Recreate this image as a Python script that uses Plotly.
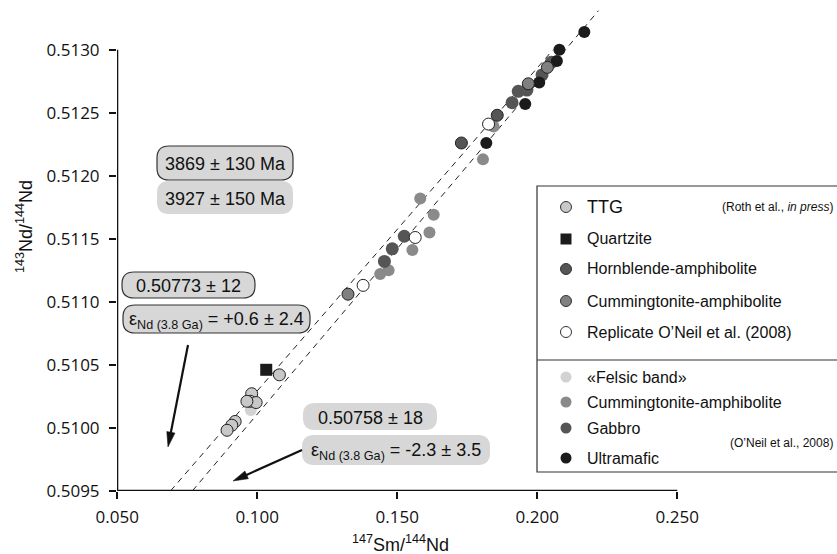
import math
import plotly.graph_objects as go

# ---------------- data ----------------
# Roth et al. (in press)
ttg_x = [0.1079, 0.0980, 0.0975, 0.0996, 0.0963, 0.0921, 0.0909, 0.0892]
ttg_y = [0.51042, 0.51027, 0.51021, 0.51020, 0.51021, 0.51005, 0.51002, 0.50998]
qtz_x = [0.1032]
qtz_y = [0.51046]
hbl_x = [0.1729, 0.1857]
hbl_y = [0.51226, 0.51248]
cumr_x = [0.1324, 0.1968, 0.2036]
cumr_y = [0.51106, 0.51273, 0.51286]
rep_x = [0.1378, 0.1564, 0.1826]
rep_y = [0.51113, 0.51151, 0.51241]
# O'Neil et al. (2008)
fel_x = [0.0977]
fel_y = [0.51014]
cumo_x = [0.1582, 0.1630, 0.1615, 0.1554, 0.1469, 0.1439, 0.1806, 0.1844]
cumo_y = [0.51182, 0.51169, 0.51155, 0.51141, 0.51125, 0.51122, 0.51213, 0.51239]
gab_x = [0.1525, 0.1482, 0.1454, 0.1910, 0.1932, 0.1963, 0.2017, 0.2050]
gab_y = [0.51152, 0.51142, 0.51132, 0.51258, 0.51267, 0.51268, 0.51280, 0.51290]
umf_x = [0.2168, 0.2079, 0.2070, 0.2007, 0.1957, 0.1818]
umf_y = [0.51314, 0.51300, 0.51291, 0.51274, 0.51257, 0.51226]

# isochrons (intercept, slope, upper end)
iso_b = [0.50773, 0.50748]
iso_m = [0.02563, 0.02628]
iso_ytop = [0.51300, 0.51331]

x_ticks = [0.050, 0.100, 0.150, 0.200, 0.250]
x_ticktext = ["0.050", "0.100", "0.150", "0.200", "0.250"]
y_ticks = [0.5095, 0.5100, 0.5105, 0.5110, 0.5115, 0.5120, 0.5125, 0.5130]
y_ticktext = ["0.5095", "0.5100", "0.5105", "0.5110", "0.5115", "0.5120", "0.5125", "0.5130"]

age_labels = ["3869 ± 130 Ma", "3927 ± 150 Ma"]
intercept_labels = ["0.50773 ± 12", "0.50758 ± 18"]
eps_labels = ["+0.6 ± 2.4", "-2.3 ± 3.5"]

roth_names = ["TTG", "Quartzite", "Hornblende-amphibolite", "Cummingtonite-amphibolite",
              "Replicate O’Neil et al. (2008)"]
oneil_names = ["«Felsic band»", "Cummingtonite-amphibolite", "Gabbro", "Ultramafic"]

# ---------------- layout geometry ----------------
W, H = 837, 554
L, R, T, B = 117, 837, 0, 491
XPX = 2800.0     # px per x unit
YPX = 126000.0   # px per y unit
x0r = 0.05
y0r = 0.5095
xr = [x0r - 0.0001, x0r - 0.0001 + (R - L) / XPX]
yr = [y0r - 0.000002, y0r - 0.000002 + (B - T) / YPX]


def px(xp):
    return (xp - L) / (R - L)


def py(yp):
    return (B - yp) / (B - T)


def pill(x0, y0, x1, y1, r):
    pts = [("M", [(x0 + r, y0)]), ("L", [(x1 - r, y0)]), ("Q", [(x1, y0), (x1, y0 + r)]),
           ("L", [(x1, y1 - r)]), ("Q", [(x1, y1), (x1 - r, y1)]), ("L", [(x0 + r, y1)]),
           ("Q", [(x0, y1), (x0, y1 - r)]), ("L", [(x0, y0 + r)]), ("Q", [(x0, y0), (x0 + r, y0)])]
    s = ""
    for cmd, ps in pts:
        s += cmd + " " + " ".join(f"{px(a):.5f},{py(b):.5f}" for a, b in ps) + " "
    return s + "Z"


fig = go.Figure()

# isochrons
for b, m, yt in zip(iso_b, iso_m, iso_ytop):
    fig.add_trace(go.Scatter(x=[(y0r - b) / m, (yt - b) / m], y=[y0r, yt], mode="lines",
                             line=dict(color="#222", width=1, dash="6px,5px"),
                             hoverinfo="skip", showlegend=False))

OUT = dict(color="#222", width=1)


def pts(x, y, color, line=None, symbol="circle", size=12):
    fig.add_trace(go.Scatter(x=x, y=y, mode="markers", showlegend=False, hoverinfo="skip",
                             marker=dict(color=color, size=size, symbol=symbol,
                                         line=line if line else dict(width=0))))


# O'Neil
pts(fel_x, fel_y, "#d2d2d2")
pts(cumo_x, cumo_y, "#8a8a8a")
pts(gab_x, gab_y, "#555555", size=13)
pts(umf_x, umf_y, "#1b1b1b")
# Roth
pts(ttg_x, ttg_y, "#c8c8c8", OUT)
pts(qtz_x, qtz_y, "#1b1b1b", symbol="square", size=12)
pts(hbl_x, hbl_y, "#555555", OUT)
pts(cumr_x, cumr_y, "#808080", OUT)
pts(rep_x, rep_y, "#ffffff", OUT)

shapes = []
# axis lines
shapes.append(dict(type="line", xref="x", yref="y", x0=x_ticks[0], x1=x_ticks[-1], y0=y0r, y1=y0r,
                   line=dict(color="#111", width=2)))
shapes.append(dict(type="line", xref="x", yref="y", x0=x0r, x1=x0r, y0=y_ticks[0], y1=y_ticks[-1],
                   line=dict(color="#111", width=2)))

annotations = []
FILL = "#d7d7d7"
BOX_FONT = dict(family="Liberation Sans, Arial", size=18, color="#111")

# pills: (x0,y0,x1,y1, outlined, text)
pills = [
    (157, 146, 293, 180, True, age_labels[0]),
    (157, 181, 293, 214, False, age_labels[1]),
    (122, 272, 255, 298, True, intercept_labels[0]),
    (123, 305, 310, 333, True, "ε<sub>Nd (3.8 Ga)</sub> = " + eps_labels[0]),
    (303, 403, 437, 430, False, intercept_labels[1]),
    (302, 435, 490, 465, False, "ε<sub>Nd (3.8 Ga)</sub> = " + eps_labels[1]),
]
for x0p, y0p, x1p, y1p, outl, txt in pills:
    shapes.append(dict(type="path", xref="paper", yref="paper", path=pill(x0p, y0p, x1p, y1p, 12),
                       fillcolor=FILL, line=dict(color="#333" if outl else FILL, width=1.2 if outl else 0),
                       layer="above"))
    annotations.append(dict(xref="paper", yref="paper", x=px((x0p + x1p) / 2), y=py((y0p + y1p) / 2 + 1),
                            text=txt, showarrow=False, font=BOX_FONT, xanchor="center", yanchor="middle"))

# arrows (tip, tail) drawn as line + triangular head
for (tx, ty), (sx, sy) in [((168, 447), (188, 345)), ((233, 481), (302, 450))]:
    dx, dy = tx - sx, ty - sy
    d = math.hypot(dx, dy)
    ux, uy = dx / d, dy / d
    nx, ny = -uy, ux
    hl, hw = 15, 4.2
    bx, by = tx - hl * ux, ty - hl * uy
    shapes.append(dict(type="line", xref="paper", yref="paper", x0=px(sx), y0=py(sy), x1=px(bx + 2 * ux),
                       y1=py(by + 2 * uy), line=dict(color="#111", width=2.2), layer="above"))
    tri = (f"M {px(tx):.5f},{py(ty):.5f} L {px(bx + hw * nx):.5f},{py(by + hw * ny):.5f} "
           f"L {px(bx - hw * nx):.5f},{py(by - hw * ny):.5f} Z")
    shapes.append(dict(type="path", xref="paper", yref="paper", path=tri, fillcolor="#111",
                       line=dict(color="#111", width=0.5), layer="above"))

# legend box
shapes.append(dict(type="rect", xref="paper", yref="paper", x0=px(537), x1=px(850), y0=py(186), y1=py(472),
                   fillcolor="white", line=dict(color="#333", width=1.2), layer="above"))
shapes.append(dict(type="line", xref="paper", yref="paper", x0=px(537), x1=px(850), y0=py(360), y1=py(360),
                   line=dict(color="#333", width=1.2), layer="above"))

LEG_FONT = dict(family="Liberation Sans, Arial", size=16, color="#111")
roth_rows = [207, 239, 269, 301, 332]
roth_style = [("circle", "#c8c8c8", True), ("square", "#1b1b1b", False), ("circle", "#555555", True),
              ("circle", "#808080", True), ("circle", "#ffffff", True)]
oneil_rows = [377, 402, 428, 458]
oneil_style = [("circle", "#d2d2d2", False), ("circle", "#8a8a8a", False), ("circle", "#555555", False),
               ("circle", "#1b1b1b", False)]
mx = 566
rad = 5.5
for rows, names, styles in [(roth_rows, roth_names, roth_style), (oneil_rows, oneil_names, oneil_style)]:
    for yy, nm, (sym, col, outl) in zip(rows, names, styles):
        shapes.append(dict(type="circle" if sym == "circle" else "rect", xref="paper", yref="paper",
                           x0=px(mx - rad), x1=px(mx + rad), y0=py(yy + rad), y1=py(yy - rad),
                           fillcolor=col, line=dict(color="#333" if outl else col, width=1 if outl else 0),
                           layer="above"))
        f = dict(LEG_FONT)
        if nm == "TTG":
            f["size"] = 18
        annotations.append(dict(xref="paper", yref="paper", x=px(585), y=py(yy), text=nm, showarrow=False,
                                xanchor="left", yanchor="middle", font=f))

CIT_FONT = dict(family="Liberation Sans, Arial", size=12, color="#111")
annotations.append(dict(xref="paper", yref="paper", x=px(835), y=py(207), text="(Roth et al., <i>in press</i>)",
                        showarrow=False, xanchor="right", yanchor="middle", font=CIT_FONT))
annotations.append(dict(xref="paper", yref="paper", x=px(835), y=py(443), text="(O’Neil et al., 2008)",
                        showarrow=False, xanchor="right", yanchor="middle", font=CIT_FONT))

# axis titles
annotations.append(dict(xref="paper", yref="paper", x=px(400), y=py(543), text="<sup>147</sup>Sm/<sup>144</sup>Nd",
                        showarrow=False, xanchor="center", yanchor="middle",
                        font=dict(family="Liberation Sans, Arial", size=18, color="#111")))
annotations.append(dict(xref="paper", yref="paper", x=px(24), y=py(226), text="<sup>143</sup>Nd/<sup>144</sup>Nd",
                        showarrow=False, xanchor="center", yanchor="middle", textangle=-90,
                        font=dict(family="Liberation Sans, Arial", size=18, color="#111")))

TICK_FONT = dict(family="Open Sans", size=17, color="#111")
fig.update_layout(
    width=W, height=H, margin=dict(l=L, r=W - R, t=T, b=H - B),
    paper_bgcolor="white", plot_bgcolor="white",
    xaxis=dict(range=xr, tickvals=x_ticks, ticktext=x_ticktext, ticks="outside", ticklen=7, tickwidth=2,
               tickcolor="#111", showgrid=False, zeroline=False, showline=False, tickfont=TICK_FONT,
               ticklabelstandoff=4),
    yaxis=dict(range=yr, tickvals=y_ticks, ticktext=y_ticktext, ticks="outside", ticklen=7, tickwidth=2,
               tickcolor="#111", showgrid=False, zeroline=False, showline=False, tickfont=TICK_FONT,
               ticklabelstandoff=6),
    shapes=shapes, annotations=annotations, showlegend=False,
)

fig.write_html("out.html")
